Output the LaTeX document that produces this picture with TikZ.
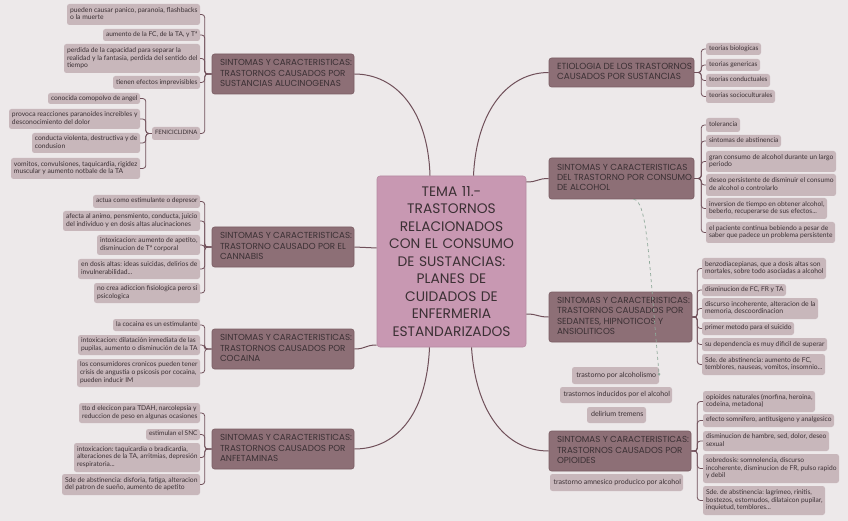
\documentclass[tikz,border=0pt]{standalone}
\usepackage{fontspec}
\usepackage{graphicx}
\setmainfont{Lato}
\newfontfamily\titlefont{Poppins}
\usetikzlibrary{arrows.meta}
\frenchspacing
\definecolor{bgc}{HTML}{EDE9EA}
\definecolor{cenc}{HTML}{C898B2}
\definecolor{cenb}{HTML}{B68AA1}
\definecolor{mainc}{HTML}{8D6F76}
\definecolor{mainb}{HTML}{7A5D63}
\definecolor{kidc}{HTML}{C8B7BB}
\definecolor{linec}{HTML}{70505A}
\definecolor{txtc}{HTML}{3B3034}
\definecolor{dashc}{HTML}{8FA99A}
\tikzset{
  kid/.style={fill=kidc, rounded corners=2.5pt, font=\fontsize{7.1}{8}\selectfont, text=txtc, inner xsep=1.5pt, inner ysep=0.5pt},
  mainn/.style={fill=mainc, draw=mainb, line width=0.6pt, rounded corners=2.5pt, font=\titlefont\fontsize{8.9}{10.5}\selectfont, text=txtc, inner xsep=2pt, inner ysep=0.5pt},
  cen/.style={fill=cenc, draw=cenb, line width=0.6pt, rounded corners=3pt, font=\titlefont\fontsize{13.8}{17.5}\selectfont, text=txtc, align=center, inner xsep=2pt},
  br/.style={draw=linec, line width=0.8pt, rounded corners=3pt},
  trunk/.style={draw=linec, line width=1pt},
  rel/.style={draw=dashc, dashed, line width=0.7pt}
}
\newsavebox\fitbox
\newcommand\fitto[2]{% #1 max width (pt number), #2 content
  \sbox\fitbox{#2}%
  \ifdim\wd\fitbox>#1pt\resizebox{#1pt}{!}{\usebox\fitbox}\else\usebox\fitbox\fi}
\newcommand\kidbox[7][l]{%
  \pgfmathsetmacro\bxW{#4-#3}\pgfmathsetmacro\bxH{#6-#5}\pgfmathsetmacro\bxT{#4-#3-3}%
  \pgfmathsetmacro\bxF{#4-#3-5.5}%
  \pgfmathsetmacro\bxCX{(#3+#4)/2}\pgfmathsetmacro\bxCY{(#5+#6)/2}%
  \node[kid,minimum width=\bxW pt,minimum height=\bxH pt] (#2) at (\bxCX,\bxCY)
    {\makebox[\bxT pt][#1]{\hspace{1.5pt}\fitto{\bxF}{\begin{tabular}{@{}#1@{}}#7\end{tabular}}}};}
\newcommand\mainbox[6]{%
  \pgfmathsetmacro\bxW{#3-#2}\pgfmathsetmacro\bxH{#5-#4}\pgfmathsetmacro\bxT{#3-#2-4}%
  \pgfmathsetmacro\bxF{#3-#2-10}%
  \pgfmathsetmacro\bxCX{(#2+#3)/2}\pgfmathsetmacro\bxCY{(#4+#5)/2}%
  \node[mainn,minimum width=\bxW pt,minimum height=\bxH pt] (#1) at (\bxCX,\bxCY)
    {\makebox[\bxT pt][l]{\hspace{6pt}\fitto{\bxF}{\begin{tabular}{@{}l@{}}#6\end{tabular}}}};}
\begin{document}
\begin{tikzpicture}[x=1pt,y=-1pt]
\useasboundingbox (0,0) rectangle (848,521);
\fill[bgc] (0,0) rectangle (848,521);

% center
\node[cen, minimum width=149pt, minimum height=171pt, text width=145pt] (cen) at (451.5,261.5)
  {TEMA 11.-\\TRASTORNOS\\RELACIONADOS\\CON EL CONSUMO\\DE SUSTANCIAS:\\PLANES DE\\CUIDADOS DE\\ENFERMERIA\\ESTANDARIZADOS};

% main topics
\mainbox{alu}{212}{354}{54}{94}{SINTOMAS Y CARACTERISTICAS:\\TRASTORNOS CAUSADOS POR\\SUSTANCIAS ALUCINOGENAS}
\mainbox{can}{212}{354}{227}{267}{SINTOMAS Y CARACTERISTICAS:\\TRASTORNO CAUSADO POR EL\\CANNABIS}
\mainbox{coc}{212}{354}{329}{369}{SINTOMAS Y CARACTERISTICAS:\\TRASTORNOS CAUSADOS POR\\COCAINA}
\mainbox{anf}{212}{354}{429}{469}{SINTOMAS Y CARACTERISTICAS:\\TRASTORNOS CAUSADOS POR\\ANFETAMINAS}
\mainbox{eti}{549}{694}{58}{87}{ETIOLOGIA DE LOS TRASTORNOS\\CAUSADOS POR SUSTANCIAS}
\mainbox{alc}{549}{694}{158}{199}{SINTOMAS Y CARACTERISTICAS\\DEL TRASTORNO POR CONSUMO\\DE ALCOHOL}
\mainbox{sed}{549}{692}{292}{342}{SINTOMAS Y CARACTERISTICAS:\\TRASTORNOS CAUSADOS POR\\SEDANTES, HIPNOTICOS Y\\ANSIOLITICOS}
\mainbox{opi}{549}{691}{431}{471}{SINTOMAS Y CARACTERISTICAS:\\TRASTORNOS CAUSADOS POR\\OPIOIDES}

% trunk connectors
\draw[trunk] ([xshift=-21.5pt]cen.north) .. controls +(-2,-66) and +(41,0) .. (alu.east);
\draw[trunk] ([xshift=22pt]cen.north) .. controls +(3,-66) and +(-40,0) .. (eti.west);
\draw[trunk] ([yshift=79.5pt]cen.east) .. controls +(12,0) and +(-12,0) .. (alc.west);
\draw[trunk] ([yshift=13.5pt]cen.west) .. controls +(-12,0) and +(12,0) .. (can.east);
\draw[trunk] ([yshift=-83.5pt]cen.west) .. controls +(-12,0) and +(12,0) .. (coc.east);
\draw[trunk] ([xshift=-22pt]cen.south) .. controls +(-3,70) and +(40,0) .. (anf.east);
\draw[trunk] ([yshift=-52.5pt]cen.east) .. controls +(12,0) and +(-12,0) .. (sed.west);
\draw[trunk] ([xshift=20pt]cen.south) .. controls +(4,62) and +(-45,0) .. (opi.west);

% alucinogenas
\kidbox{alu1}{67}{200}{4}{25}{pueden causar panico, paranoia, flashbacks\\o la muerte}
\kidbox{alu2}{103}{200}{29}{41}{aumento de la FC, de la TA, y Tª}
\kidbox{alu3}{64}{200}{44}{73}{perdida de la capacidad para separar la\\realidad y la fantasia, perdida del sentido del\\tiempo}
\kidbox{alu4}{113}{200}{76}{89}{tienen efectos imprevisibles}
\kidbox{fen}{152}{200}{127}{140}{FENICICLIDINA}
\kidbox{fen1}{48}{140}{93}{104}{conocida comopolvo de angel}
\kidbox{fen2}{9}{140}{109}{129}{provoca reacciones paranoides increibles y\\desconocimiento del dolor}
\kidbox{fen3}{32}{140}{133}{153}{conducta violenta, destructiva y de\\condusion}
\kidbox{fen4}{11}{140}{158}{179}{vomitos, convulsiones, taquicardia, rigidez\\muscular y aumento notbale de la TA}
\foreach \k in {alu1,alu2,alu3,alu4,fen} \draw[br] (alu.west) -- ++(-7,0) |- (\k.east);
\foreach \k in {fen1,fen2,fen3,fen4} \draw[br] (fen.west) -- ++(-6,0) |- (\k.east);

% cannabis
\kidbox{can1}{93}{200}{195}{208}{actua como estimulante o depresor}
\kidbox{can2}{63}{200}{211}{231}{afecta al animo, pensmiento, conducta, juicio\\del individuo y en dosis altas alucinaciones}
\kidbox{can3}{97}{200}{235}{255}{intoxicacion: aumento de apetito,\\disminucion de Tª corporal}
\kidbox{can4}{78}{200}{259}{279}{en dosis altas: ideas suicidas, delirios de\\invulnerabilidad...}
\kidbox{can5}{94}{200}{283}{303}{no crea adiccion fisiologica pero si\\psicologica}
\foreach \k in {can1,can2,can3,can4,can5} \draw[br] (can.west) -- ++(-7,0) |- (\k.east);

% cocaina
\kidbox{coc1}{113}{200}{319}{331}{la cocaina es un estimulante}
\kidbox{coc2}{78}{200}{335}{355}{intoxicacion: dilatación inmediata de las\\pupilas, aumento o disminución de la TA}
\kidbox{coc3}{77}{200}{359}{387}{los consumidores cronicos pueden tener\\crisis de angustia o psicosis por cocaina,\\pueden inducir IM}
\foreach \k in {coc1,coc2,coc3} \draw[br] (coc.west) -- ++(-7,0) |- (\k.east);

% anfetaminas
\kidbox{anf1}{79}{200}{403}{423}{tto d elecicon para TDAH, narcolepsia y\\reduccion de peso en algunas ocasiones}
\kidbox{anf2}{146}{200}{429}{440}{estimulan el SNC}
\kidbox{anf3}{74}{200}{443}{472}{intoxicacion: taquicardia o bradicardia,\\alteraciones de la TA, arritmias, depresión\\respiratoria...}
\kidbox{anf4}{62}{200}{474}{495}{Sde de abstinencia: disforia, fatiga, alteracion\\del patron de sueño, aumento de apetito}
\foreach \k in {anf1,anf2,anf3,anf4} \draw[br] (anf.west) -- ++(-7,0) |- (\k.east);

% etiologia
\kidbox{eti1}{706}{761}{43}{55}{teorias biologicas}
\kidbox{eti2}{706}{760}{59}{71}{teorias genericas}
\kidbox{eti3}{706}{770}{74}{87}{teorias conductuales}
\kidbox{eti4}{706}{775}{90}{103}{teorias socioculturales}
\foreach \k in {eti1,eti2,eti3,eti4} \draw[br] (eti.east) -- ++(7,0) |- (\k.west);

% alcohol
\kidbox{alc1}{706}{740}{118}{132}{tolerancia}
\kidbox{alc2}{706}{781}{135}{147}{sintomas de abstinencia}
\kidbox{alc3}{706}{836}{151}{172}{gran consumo de alcohol durante un largo\\periodo}
\kidbox{alc4}{706}{836}{174}{196}{deseo persistente de disminuir el consumo\\de alcohol o controlarlo}
\kidbox{alc5}{706}{827}{198}{219}{inversion de tiempo en obtener alcohol,\\beberlo, recuperarse de sus efectos...}
\kidbox{alc6}{706}{835}{222}{243}{el paciente continua bebiendo a pesar de\\saber que padece un problema persistente}
\foreach \k in {alc1,alc2,alc3,alc4,alc5,alc6} \draw[br] (alc.east) -- ++(7,0) |- (\k.west);

% sedantes
\kidbox{sed1}{702}{826}{258}{279}{benzodiacepianas, que a dosis altas son\\mortales, sobre todo asociadas a alcohol}
\kidbox{sed2}{702}{786}{284}{296}{disminucion de FC, FR y TA}
\kidbox{sed3}{702}{818}{298}{319}{discurso incoherente, alteracion de la\\memoria, descoordinacion}
\kidbox{sed4}{702}{794}{322}{335}{primer metodo para el suicido}
\kidbox{sed5}{702}{827}{338}{351}{su dependencia es muy dificil de superar}
\kidbox{sed6}{702}{825}{354}{375}{Sde. de abstinencia: aumento de FC,\\temblores, nauseas, vomitos, insomnio...}
\foreach \k in {sed1,sed2,sed3,sed4,sed5,sed6} \draw[br] (sed.east) -- ++(5,0) |- (\k.west);

% opioides
\kidbox{opi1}{703}{815}{391}{412}{opioides naturales (morfina, heroina,\\codeina, metadona)}
\kidbox{opi2}{703}{834}{414}{427}{efecto somnifero, antitusigeno y analgesico}
\kidbox{opi3}{703}{829}{431}{451}{disminucion de hambre, sed, dolor, deseo\\sexual}
\kidbox{opi4}{703}{839}{454}{483}{sobredosis: somnolencia, discurso\\incoherente, disminucion de FR, pulso rapido\\y debil}
\kidbox{opi5}{703}{825}{486}{515}{Sde. de abstinencia: lagrimeo, rinitis,\\bostezos, estornudos, dilataicon pupilar,\\inquietud, temblores...}
\foreach \k in {opi1,opi2,opi3,opi4,opi5} \draw[br] (opi.east) -- ++(6,0) |- (\k.west);

% floating alcohol topics
\kidbox[c]{alcm}{572}{659}{367}{384}{trastorno por alcoholismo}
\kidbox[c]{ind}{560}{672}{387}{403}{trastornos inducidos por el alcohol}
\kidbox[c]{del}{587}{646}{407}{423}{delirium tremens}
\kidbox[c]{amn}{550}{683}{474}{491}{trastorno amnesico producico por alcohol}

% relationship
\draw[rel, -{Circle[length=2.5pt,fill=dashc]}] ([xshift=12pt]alc.south) .. controls +(14,0) and +(-10,-110) .. (alcm.east);
\end{tikzpicture}
\end{document}
